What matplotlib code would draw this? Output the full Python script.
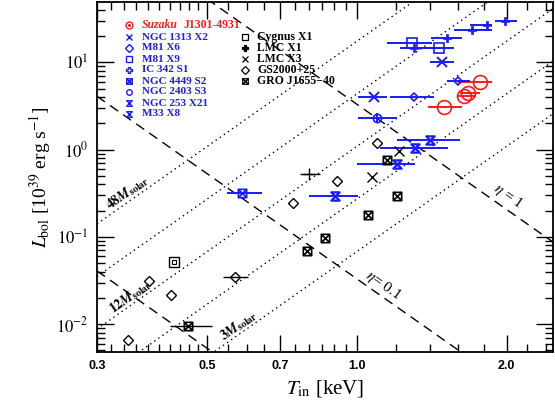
import matplotlib.pyplot as plt
import numpy as np
from matplotlib.path import Path
from matplotlib.ticker import FixedLocator, NullFormatter

plt.rcParams['font.family'] = 'serif'
plt.rcParams['font.serif'] = ['Liberation Serif', 'DejaVu Serif']
plt.rcParams['mathtext.fontset'] = 'stix'

# Suzaku J1301-4931
suz_t = [1.77, 1.67, 1.64, 1.50]
suz_lo = [1.60, 1.61, 1.59, 1.39]
suz_hi = [1.87, 1.77, 1.74, 1.63]
suz_l = [6.0, 4.5, 4.16, 3.1]

# ULXs
n1313_t = [1.48, 1.08]
n1313_lo = [1.40, 1.005]
n1313_hi = [1.57, 1.15]
n1313_l = [10.2, 4.05]

m81x6_t = [1.30, 1.60]
m81x6_lo = [1.165, 1.52]
m81x6_hi = [1.43, 1.69]
m81x6_l = [4.05, 6.17]

m81x9_t = [1.29, 1.46]
m81x9_lo = [1.15, 1.25]
m81x9_hi = [1.415, 1.57]
m81x9_l = [16.8, 14.7]

ic342_t = [1.99, 1.83, 1.705, 1.52, 1.30]
ic342_lo = [1.895, 1.69, 1.57, 1.41, 1.22]
ic342_hi = [2.10, 1.87, 1.87, 1.63, 1.47]
ic342_l = [29.3, 27.0, 23.7, 19.2, 14.7]

n4449_t = [0.587]
n4449_lo = [0.548]
n4449_hi = [0.645]
n4449_l = [0.32]

n2403_t = [1.10]
n2403_lo = [1.005]
n2403_hi = [1.204]
n2403_l = [2.32]
n2403_llo = [2.04]
n2403_lhi = [2.65]

n253_t = [0.903]
n253_lo = [0.801]
n253_hi = [1.005]
n253_l = [0.29]

m33_t = [1.40, 1.31, 1.204]
m33_lo = [1.204, 1.113, 1.0]
m33_hi = [1.612, 1.527, 1.309]
m33_l = [1.27, 1.05, 0.69]

# Galactic black holes
cyg_t = [0.429]
cyg_l = [0.052]

lmcx1_t = [0.801]
lmcx1_lo = [0.769]
lmcx1_hi = [0.843]
lmcx1_l = [0.53]

lmcx3_t = [1.073, 1.216]
lmcx3_l = [0.49, 0.974]

gs2000_t = [0.346, 0.423, 0.382, 0.569, 0.744, 0.912, 1.10]
gs2000_l = [0.00666, 0.0218, 0.0316, 0.0351, 0.247, 0.441, 1.20]
gs2000_lo = [0.346, 0.423, 0.382, 0.537, 0.744, 0.912, 1.10]
gs2000_hi = [0.346, 0.423, 0.382, 0.604, 0.744, 0.912, 1.10]

gro_t = [0.457, 0.794, 0.863, 1.053, 1.204, 1.149]
gro_l = [0.00964, 0.0697, 0.0982, 0.18, 0.29, 0.768]
gro_lo = [0.42, 0.794, 0.863, 1.053, 1.204, 1.149]
gro_hi = [0.511, 0.794, 0.863, 1.053, 1.204, 1.149]

# reference lines: L = K_MASS (M/48)^2 T^4 and L = K_EDD eta^2 T^-4
masses = [48, 24, 12, 6, 3]
K_MASS = 17.4
etas = [1.0, 0.1, 0.01]
K_EDD = 3.3

hourglass = Path([(-1, 1), (1, 1), (-1, -1), (1, -1), (-1, 1)],
                 [Path.MOVETO, Path.LINETO, Path.LINETO, Path.LINETO, Path.CLOSEPOLY])
boxx = Path([(-1, -1), (1, -1), (1, 1), (-1, 1), (-1, -1), (-1, -1), (1, 1), (-1, 1), (1, -1)],
            [Path.MOVETO, Path.LINETO, Path.LINETO, Path.LINETO, Path.CLOSEPOLY,
             Path.MOVETO, Path.LINETO, Path.MOVETO, Path.LINETO])

BLUE = '#1a1aff'
RED = '#ff1a1a'

fig = plt.figure(figsize=(5.55, 4.05), dpi=100)
ax = fig.add_axes([97/555, 1-352/405, 456/555, 350/405])
ax.set_xscale('log')
ax.set_yscale('log')
ax.set_xlim(0.3, 2.48)
ax.set_ylim(0.0048, 49)

tt = np.logspace(np.log10(0.3), np.log10(2.48), 100)
for m in masses:
    ax.plot(tt, K_MASS*(m/48.0)**2*tt**4, color='k', lw=1.0, ls=(0, (1, 2.6)), zorder=1)
for e in etas:
    ax.plot(tt, K_EDD*e**2*tt**-4, color='k', lw=1.0, ls=(0, (7, 4.5)), zorder=1)


def series(t, l, lo, hi, color, marker, ms, mew=1.2, elw=1.4, yerr=None, mfc='none'):
    t = np.array(t)
    xerr = [t - np.array(lo), np.array(hi) - t]
    ax.errorbar(t, l, xerr=xerr, yerr=yerr, fmt='none', ecolor=color, elinewidth=elw,
                capsize=0, zorder=2)
    ax.plot(t, l, ls='none', marker=marker, ms=ms, mec=color, mfc=mfc, mew=mew, zorder=3)


series(suz_t, suz_l, suz_lo, suz_hi, RED, 'o', 10)
series(n1313_t, n1313_l, n1313_lo, n1313_hi, BLUE, 'x', 7, mew=1.4)
series(m81x6_t, m81x6_l, m81x6_lo, m81x6_hi, BLUE, 'D', 4.5)
series(m81x9_t, m81x9_l, m81x9_lo, m81x9_hi, BLUE, 's', 7)
series(ic342_t, ic342_l, ic342_lo, ic342_hi, BLUE, 'P', 6, mfc=BLUE, mew=0.5)
series(n4449_t, n4449_l, n4449_lo, n4449_hi, BLUE, boxx, 6)
n2403_err = [np.array(n2403_l) - np.array(n2403_llo), np.array(n2403_lhi) - np.array(n2403_l)]
series(n2403_t, n2403_l, n2403_lo, n2403_hi, BLUE, 'o', 6, yerr=n2403_err)
series(n253_t, n253_l, n253_lo, n253_hi, BLUE, hourglass, 6, mew=1.6)
series(m33_t, m33_l, m33_lo, m33_hi, BLUE, hourglass, 6, mew=1.6)

ax.plot(cyg_t, cyg_l, ls='none', marker='s', ms=7, mec='k', mfc='none', mew=1.0, zorder=3)
ax.plot(cyg_t, cyg_l, ls='none', marker='s', ms=3.5, mec='k', mfc='none', mew=0.8, zorder=3)
series(lmcx1_t, lmcx1_l, lmcx1_lo, lmcx1_hi, 'k', '+', 8, mew=1.0, elw=1.0)
ax.plot(lmcx3_t, lmcx3_l, ls='none', marker='x', ms=7, mec='k', mew=1.0, zorder=3)
series(gs2000_t, gs2000_l, gs2000_lo, gs2000_hi, 'k', 'D', 5, mew=1.0, elw=1.0)
series(gro_t, gro_l, gro_lo, gro_hi, 'k', boxx, 6, mew=1.2, elw=1.0)

# line labels
lab_kw = dict(ha='center', va='center', rotation_mode='anchor')
ax.text(0.346, 0.322, r'$\mathbf{48}\mathbfit{M}_{\mathbf{solar}}$', rotation=35, fontsize=10, **lab_kw)
ax.text(0.35, 0.0206, r'$\mathbf{12}\mathbfit{M}_{\mathbf{solar}}$', rotation=35, fontsize=10, **lab_kw)
ax.text(0.579, 0.00964, r'$\mathbf{3}\mathbfit{M}_{\mathbf{solar}}$', rotation=35, fontsize=10, **lab_kw)
ax.text(2.01, 0.29, r'$\eta$ = 1', rotation=-35, fontsize=11, **lab_kw)
ax.text(1.13, 0.0277, r'$\eta$= 0.1', rotation=-35, fontsize=11, **lab_kw)


# legends, placed in axes pixels
def ap(px, py):
    return (px - 97) / 456.0, (352 - py) / 350.0


left_rows = [('NGC 1313 X2', 'x'), ('M81 X6', 'D'), ('M81 X9', 's'), ('IC 342 S1', 'P'),
             ('NGC 4449 S2', boxx), ('NGC 2403 S3', 'o'), ('NGC 253 X21', hourglass),
             ('M33 X8', hourglass)]
mx, my = ap(129, 25)
ax.plot([mx], [my], marker='o', ms=5, mec=RED, mfc='none', mew=1.0, transform=ax.transAxes)
ax.plot([mx], [my], marker='o', ms=1.2, mec=RED, mfc=RED, transform=ax.transAxes)
tx, ty = ap(142, 25)
ax.text(tx, ty, 'Suzaku', color=RED, fontsize=8.5, fontweight='bold', style='italic',
        va='center', transform=ax.transAxes)
tx2, _ = ap(183, 25)
ax.text(tx2, ty, 'J1301-4931', color=RED, fontsize=8.5, fontweight='bold',
        va='center', transform=ax.transAxes)
for i, (name, mk) in enumerate(left_rows):
    py = 37 + 11 * i
    mx, my = ap(129, py)
    ax.plot([mx], [my], marker=mk, ms=4, mec=BLUE, mfc='none', mew=1.0, transform=ax.transAxes)
    tx, ty = ap(142, py)
    ax.text(tx, ty, name, color=BLUE, fontsize=8, fontweight='bold', va='center',
            transform=ax.transAxes)

right_rows = [('Cygnus X1', 's'), ('LMC X1', 'P'), ('LMC X3', 'x'), ('GS2000+25', 'D'),
              ('GRO J1655\u221240', boxx)]
for i, (name, mk) in enumerate(right_rows):
    py = 37 + 11 * i
    mx, my = ap(245, py)
    ax.plot([mx], [my], marker=mk, ms=4, mec='k', mfc='k' if mk == 'P' else 'none', mew=0.9,
            transform=ax.transAxes)
    tx, ty = ap(257, py)
    ax.text(tx, ty, name, color='k', fontsize=8.5, fontweight='bold', va='center',
            transform=ax.transAxes)

# axes and ticks
xmajor = [0.3, 0.5, 0.7, 1.0, 2.0]
xminor = [0.32, 0.34, 0.36, 0.38, 0.4, 0.42, 0.44, 0.46, 0.48, 0.55, 0.6, 0.65, 0.75,
          0.8, 0.85, 0.9, 0.95, 1.2, 1.4, 1.6, 1.8, 2.2, 2.4]
ax.xaxis.set_major_locator(FixedLocator(xmajor))
ax.xaxis.set_minor_locator(FixedLocator(xminor))
ax.set_xticklabels(['0.3', '0.5', '0.7', '1.0', '2.0'])
ax.xaxis.set_minor_formatter(NullFormatter())
for lab in ax.get_xticklabels():
    lab.set_family('Liberation Sans')
    lab.set_fontweight('bold')
    lab.set_fontsize(9)
ax.yaxis.set_major_locator(FixedLocator([0.01, 0.1, 1, 10]))
ax.set_yticklabels([r'$10^{-2}$', r'$10^{-1}$', r'$10^{0}$', r'$10^{1}$'], fontsize=12)
ax.tick_params(which='both', direction='in', top=True, right=True, width=1.0)
ax.tick_params(which='major', length=12, pad=6)
ax.tick_params(which='minor', length=6)
for s in ax.spines.values():
    s.set_linewidth(1.3)

ax.set_xlabel(r'$T_{\rm in}$ [keV]', fontsize=15, labelpad=4)
ax.set_ylabel(r'$L_{\rm bol}$ [10$^{39}$ erg s$^{-1}$]', fontsize=14, labelpad=2)

fig.savefig('out.png', dpi=100)
